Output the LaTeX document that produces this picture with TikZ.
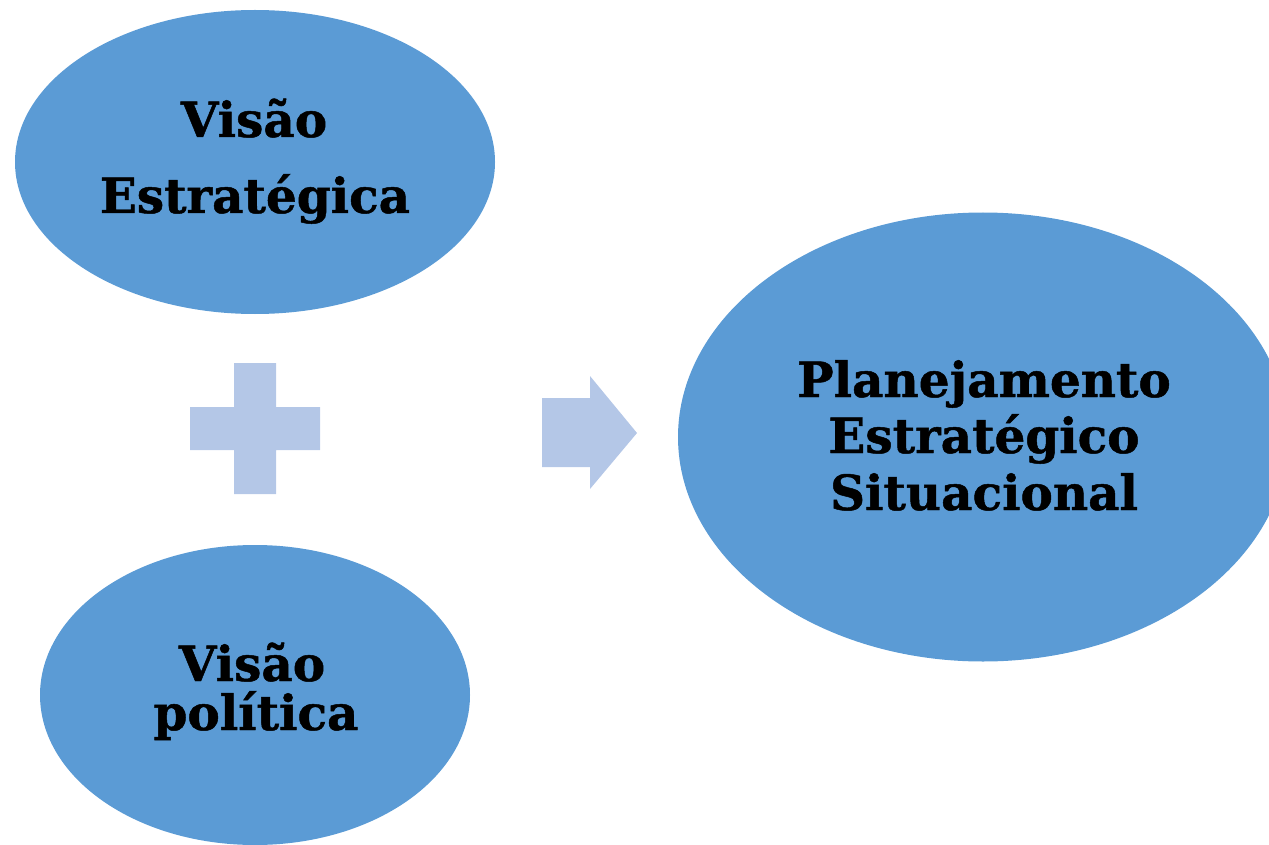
\documentclass[tikz,border=0pt]{standalone}
\usepackage{fontspec}
\setmainfont{DejaVu Serif}[BoldFeatures={FakeBold=1}]
\usetikzlibrary{shapes.geometric}
\definecolor{ellblue}{HTML}{5B9BD5}
\definecolor{lightblue}{HTML}{B4C7E7}
\begin{document}
\begin{tikzpicture}[x=1pt,y=-1pt,
  bubble/.style={ellipse,fill=ellblue,draw=none,inner sep=0pt},
  lbl/.style={anchor=base,inner sep=0pt,font=\fontsize{48.5}{56}\selectfont\bfseries},
  shapefill/.style={fill=lightblue,draw=none}]
\useasboundingbox (0,0) rectangle (1269,845);
\node[bubble,minimum width=480pt,minimum height=304pt] (e1) at (255,162) {};
\node[bubble,minimum width=430pt,minimum height=300pt] (e2) at (255,695) {};
\node[bubble,minimum width=610pt,minimum height=449pt] (e3) at (983,437) {};
\node[lbl] (t1a) at (254,137) {Visão};
\node[lbl] (t1b) at (255,213) {Estratégica};
\node[lbl] (t2a) at (252,681) {Visão};
\node[lbl] (t2b) at (256,730) {política};
\node[lbl] (t3a) at (984,397) {Planejamento};
\node[lbl] (t3b) at (984,453) {Estratégico};
\node[lbl] (t3c) at (984,510) {Situacional};
% plus sign
\fill[shapefill] (234,363) -- (276,363) -- (276,407) -- (320,407) -- (320,450) -- (276,450) -- (276,494) -- (234,494) -- (234,450) -- (190,450) -- (190,407) -- (234,407) -- cycle;
% arrow
\fill[shapefill] (542,398) -- (590,398) -- (590,376) -- (637,433) -- (590,489) -- (590,467) -- (542,467) -- cycle;
\end{tikzpicture}
\end{document}
